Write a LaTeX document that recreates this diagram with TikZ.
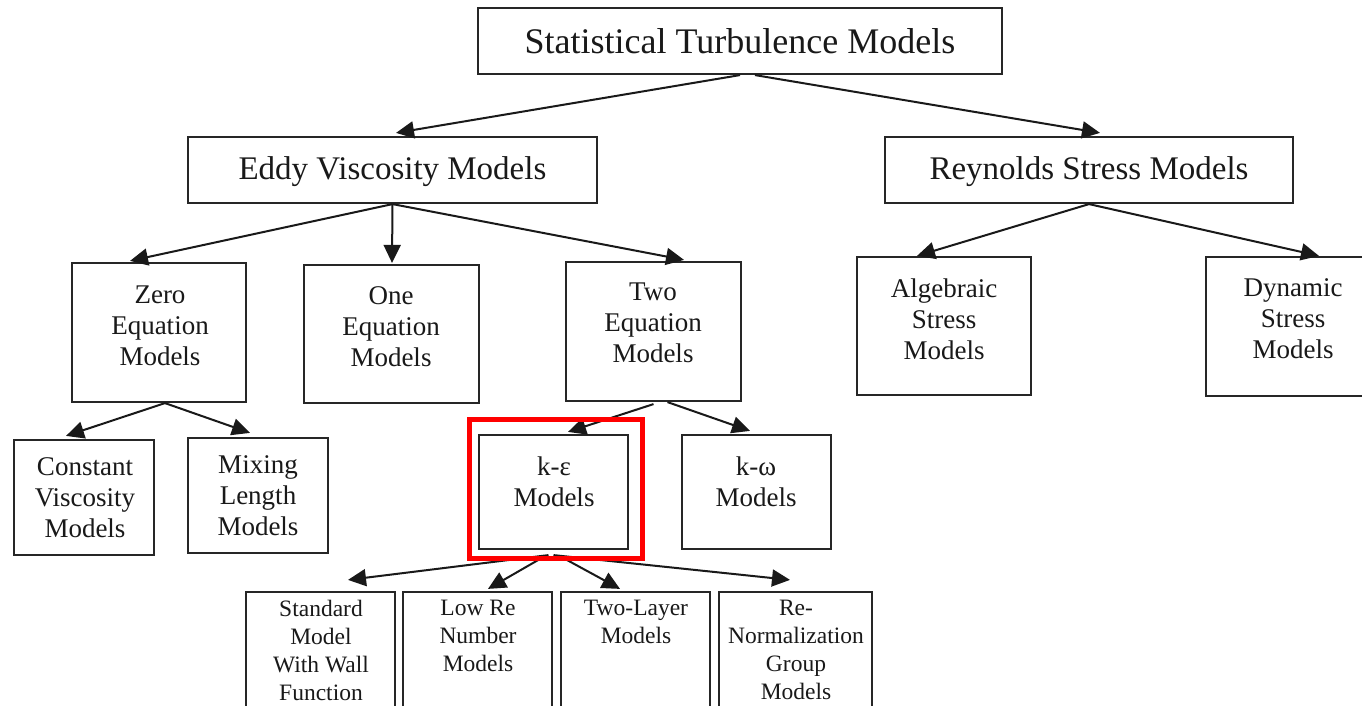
\documentclass[tikz,border=0pt]{standalone}
\usepackage{fontspec}
\setmainfont{Liberation Serif}
\usetikzlibrary{arrows.meta}
\begin{document}
\begin{tikzpicture}[x=1pt,y=-1pt,
  box/.style={draw=black!85,line width=2.2pt,rectangle,inner sep=0pt},
  txt/.style={align=center,inner sep=0pt,text=black!90},
  huge/.style={font=\fontsize{36}{42}\selectfont},
  big/.style={font=\fontsize{33}{38}\selectfont},
  mid/.style={font=\fontsize{27}{31}\selectfont},
  sml/.style={font=\fontsize{23.5}{28}\selectfont},
  arr/.style={draw=black!90,line width=2pt,-{Triangle[length=18pt,width=17pt]}},
  redbox/.style={draw={rgb,255:red,255;green,0;blue,0},line width=5pt,rectangle,inner sep=0pt},
]
\useasboundingbox (0,0) rectangle (1362,706);
\clip (0,0) rectangle (1362,706);
\fill[white] (0,0) rectangle (1362,706);

% level 1-2
\node[box,minimum width=524pt,minimum height=66pt] (top) at (740,41) {};
\node[box,minimum width=409pt,minimum height=66pt] (eddy) at (392.5,170) {};
\node[box,minimum width=408pt,minimum height=66pt] (rey) at (1089,170) {};
\node[txt,huge] (topT) at (740,41) {Statistical Turbulence Models};
\node[txt,big] (eddyT) at (392.5,172) {Eddy Viscosity Models};
\node[txt,big] (reyT) at (1089,172) {Reynolds Stress Models};

% level 3
\node[box,minimum width=174pt,minimum height=139pt] (zero) at (159,332.5) {};
\node[box,minimum width=175pt,minimum height=138pt] (one) at (391.5,334) {};
\node[box,minimum width=175pt,minimum height=139pt] (two) at (653.5,331.5) {};
\node[box,minimum width=174pt,minimum height=138pt] (alg) at (944,326) {};
\node[box,minimum width=174pt,minimum height=139pt] (dyn) at (1293,326.5) {};
\node[txt,mid] (zeroT) at (160,326) {Zero\\Equation\\Models};
\node[txt,mid] (oneT) at (391,327) {One\\Equation\\Models};
\node[txt,mid] (twoT) at (653,323) {Two\\Equation\\Models};
\node[txt,mid] (algT) at (944,319) {Algebraic\\Stress\\Models};
\node[txt,mid] (dynT) at (1293,319) {Dynamic\\Stress\\Models};

% level 4
\node[box,minimum width=140pt,minimum height=115pt] (const) at (84,497.5) {};
\node[box,minimum width=140pt,minimum height=115pt] (mix) at (258,495.5) {};
\node[box,minimum width=149pt,minimum height=114pt] (ke) at (553.5,492) {};
\node[box,minimum width=149pt,minimum height=114pt] (kw) at (756.5,492) {};
\node[txt,mid] (constT) at (85,498) {Constant\\Viscosity\\Models};
\node[txt,mid] (mixT) at (258,496) {Mixing\\Length\\Models};
\node[txt,mid] (keT) at (554,482) {k-ε\\Models};
\node[txt,mid] (kwT) at (756,482) {k-ω\\Models};

% level 5
\node[box,minimum width=149pt,minimum height=139pt] (std) at (320.5,661.5) {};
\node[box,minimum width=149pt,minimum height=139pt] (low) at (477.5,661.5) {};
\node[box,minimum width=149pt,minimum height=139pt] (twl) at (635.5,661.5) {};
\node[box,minimum width=153pt,minimum height=139pt] (ren) at (795.5,661.5) {};
\node[txt,sml] (stdT) at (321,650) {Standard\\Model\\With Wall\\Function};
\node[txt,sml] (lowT) at (478,636) {Low Re\\Number\\Models};
\node[txt,sml] (twlT) at (636,622) {Two-Layer\\Models};
\node[txt,sml] (renT) at (796,650) {Re-\\Normalization\\Group\\Models};

% connectors
\draw[arr] (top.south) -- ([xshift=3.5pt,yshift=3pt]eddy.north);
\draw[arr] ([xshift=15pt]top.south) -- ([xshift=11pt,yshift=3pt]rey.north);

\draw[arr] (eddy.south) -- ([xshift=-29pt,yshift=1pt]zero.north);
\draw[arr] (eddy.south) -- ([xshift=0.5pt,yshift=1pt]one.north);
\draw[arr] (eddy.south) -- ([xshift=30.5pt,yshift=1pt]two.north);

\draw[arr] (rey.south) -- ([xshift=-27pt,yshift=0pt]alg.north);
\draw[arr] (rey.south) -- ([xshift=26pt,yshift=0pt]dyn.north);

\draw[arr] ([xshift=6pt]zero.south) -- ([xshift=-18pt,yshift=3pt]const.north);
\draw[arr] ([xshift=6pt]zero.south) -- ([xshift=-8pt,yshift=4pt]mix.north);

\draw[arr] ([yshift=-2pt]two.south) -- ([xshift=14.5pt,yshift=2pt]ke.north);
\draw[arr] ([xshift=14pt]two.south) -- ([xshift=-6.5pt,yshift=3pt]kw.north);

\draw[arr] ([xshift=-5pt,yshift=-5pt]ke.south) -- ([xshift=27.5pt,yshift=11pt]std.north);
\draw[arr] ([xshift=-12pt,yshift=-8pt]ke.south) -- ([xshift=10.5pt,yshift=2pt]low.north);
\draw[arr] ([xshift=10pt,yshift=-8pt]ke.south) -- ([xshift=-15.5pt,yshift=2pt]twl.north);
\draw[arr] ([yshift=-5pt]ke.south) -- ([xshift=-5.5pt,yshift=11pt]ren.north);

% highlight
\node[redbox,minimum width=173pt,minimum height=139pt] (hl) at (555.5,488.5) {};
\end{tikzpicture}
\end{document}
